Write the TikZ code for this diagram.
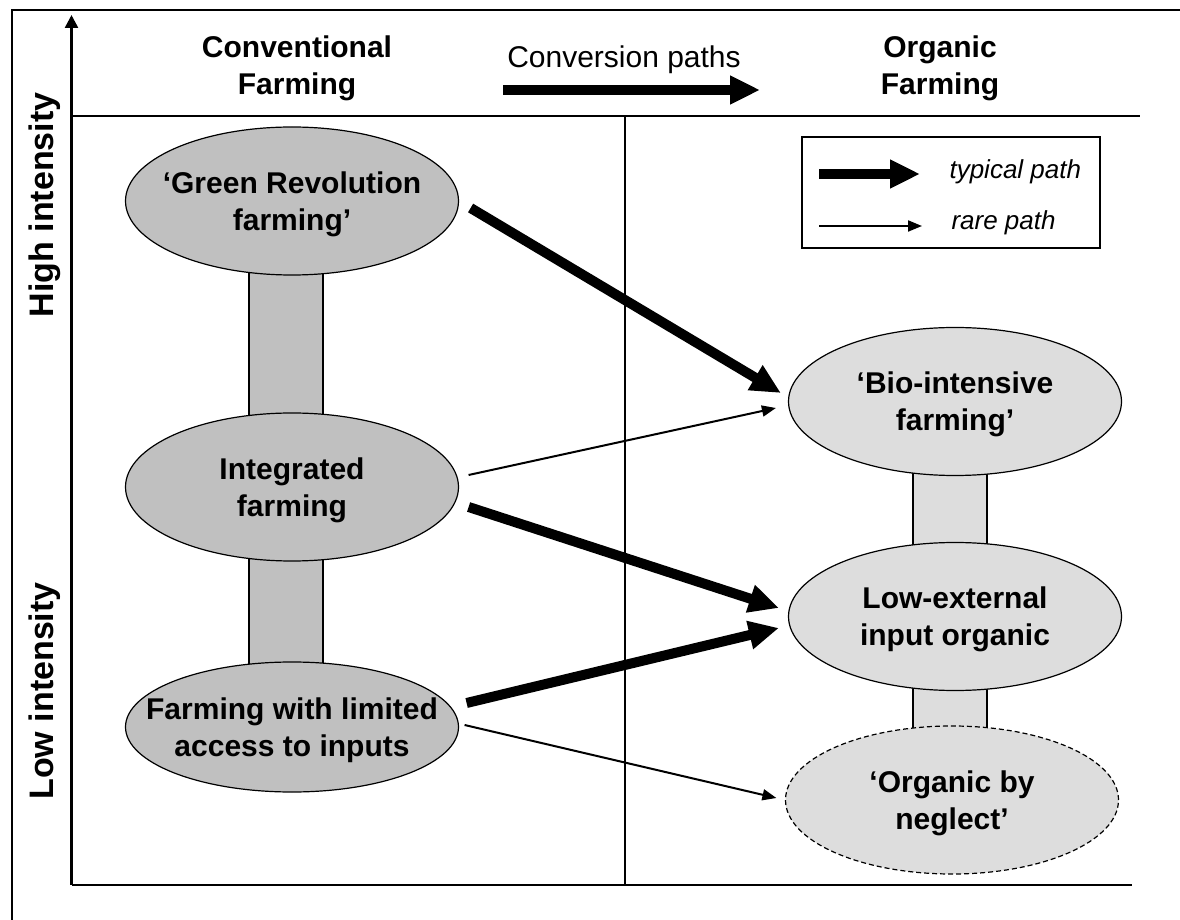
\documentclass[tikz,border=0pt]{standalone}
\usepackage{fontspec}
\setmainfont{Liberation Sans}
\usetikzlibrary{arrows.meta,shapes.geometric,backgrounds}
\definecolor{convgray}{HTML}{C0C0C0}
\definecolor{orggray}{HTML}{DDDDDD}

\begin{document}
\begin{tikzpicture}[x=1pt,y=1pt,
  farmell/.style={ellipse,draw,line width=1.2pt,minimum width=333pt,minimum height=148pt,inner sep=0pt},
  convell/.style={farmell,fill=convgray},
  orgell/.style={farmell,fill=orggray},
  boldtext/.style={align=center,font=\fontsize{30}{37}\selectfont\bfseries},
  elltext/.style={boldtext,yshift=-3pt},
  axistext/.style={font=\fontsize{34}{40}\selectfont\bfseries,rotate=90},
  legtext/.style={anchor=base west,font=\fontsize{26}{30}\selectfont\itshape},
  typpath/.style={line width=10pt,-{Triangle[length=30pt,width=27pt]}},
  rarepath/.style={line width=2pt,-{Triangle[length=14pt,width=11pt]}}]
\useasboundingbox (0,0) rectangle (1180,919);
\clip (0,0) rectangle (1180,919);
\draw[line width=2pt] (11.7,-10) rectangle (1195,908.5);
% axes and grid lines
\coordinate (orig) at (71.5,34);
\coordinate (ytop) at (71.5,904);
\coordinate (xend) at (1132,34);
\draw[line width=2.5pt,-{Triangle[length=13pt,width=13pt]}] (orig) -- (ytop);
\draw[line width=2.5pt] (orig) -- (xend);
\draw[line width=2pt] (71.5,802.5) -- (1140,802.5);
\draw[line width=1.5pt] (625,802.5) -- (625,34);
% headings
\node[boldtext] (convhead) at (297,851) {Conventional\\Farming};
\node[boldtext] (orghead) at (940,851) {Organic\\Farming};
\node[anchor=base,font=\fontsize{30}{37}\selectfont] (convpaths) at (624,851) {Conversion paths};
\coordinate (cp-a) at (503,829);
\coordinate (cp-b) at (760,829);
\draw[typpath] (cp-a) -- (cp-b);
\node[axistext] (high) at (45,714) {High intensity};
\node[axistext] (low) at (45,228) {Low intensity};
% legend
\node[draw,line width=1.2pt,minimum width=298pt,minimum height=111pt,inner sep=0pt] (legend) at (951,726.5) {};
\coordinate (lt-a) at (819,745);
\coordinate (lt-b) at (920,745);
\coordinate (lr-a) at (819,693);
\coordinate (lr-b) at (922,693);
\draw[typpath] (lt-a) -- (lt-b);
\draw[rarepath] (lr-a) -- (lr-b);
\node[legtext] (typ) at (946,740) {typical path};
\node[legtext] (rare) at (948,689) {rare path};
% farming types
\node[convell] (gr) at (292,718) {};
\node[convell] (int) at (292,432) {};
\node[convell,minimum height=130pt] (fwl) at (292,192) {};
\node[orgell] (bio) at (955,517.5) {};
\node[orgell] (low) at (955,302.5) {};
\node[orgell,dashed,dash pattern=on 5pt off 3pt] (neg) at (952,119) {};
\node[elltext] (grtxt) at (gr) {‘Green Revolution\\farming’};
\node[elltext] (inttxt) at (int) {Integrated\\farming};
\node[elltext] (fwltxt) at (fwl) {Farming with limited\\access to inputs};
\node[elltext] (biotxt) at (bio) {‘Bio-intensive\\farming’};
\node[elltext] (lowtxt) at (low) {Low-external\\input organic};
\node[elltext] (negtxt) at (neg) {‘Organic by\\neglect’};
\begin{scope}[on background layer]
\draw[line width=1.2pt,fill=convgray] ([xshift=-43pt]gr.center) rectangle ([xshift=31pt]fwl.center);
\draw[line width=1.2pt,fill=orggray] ([xshift=-42pt]bio.center) rectangle ([xshift=35pt]neg.center);
\end{scope}
% conversion paths
\draw[typpath] ([xshift=11.5pt,yshift=-7pt]gr.east) -- ([xshift=-7pt,yshift=8.5pt]bio.west);
\draw[rarepath] ([xshift=9.5pt,yshift=12pt]int.east) -- ([xshift=-12pt,yshift=-6.5pt]bio.west);
\draw[typpath] ([xshift=9.5pt,yshift=-20pt]int.east) -- ([xshift=-9pt,yshift=8.5pt]low.west);
\draw[typpath] ([xshift=7.5pt,yshift=24pt]fwl.east) -- ([xshift=-9pt,yshift=-11.5pt]low.west);
\draw[rarepath] ([xshift=5.5pt,yshift=2pt]fwl.east) -- ([xshift=-8.5pt,yshift=2pt]neg.west);
\end{tikzpicture}
\end{document}
